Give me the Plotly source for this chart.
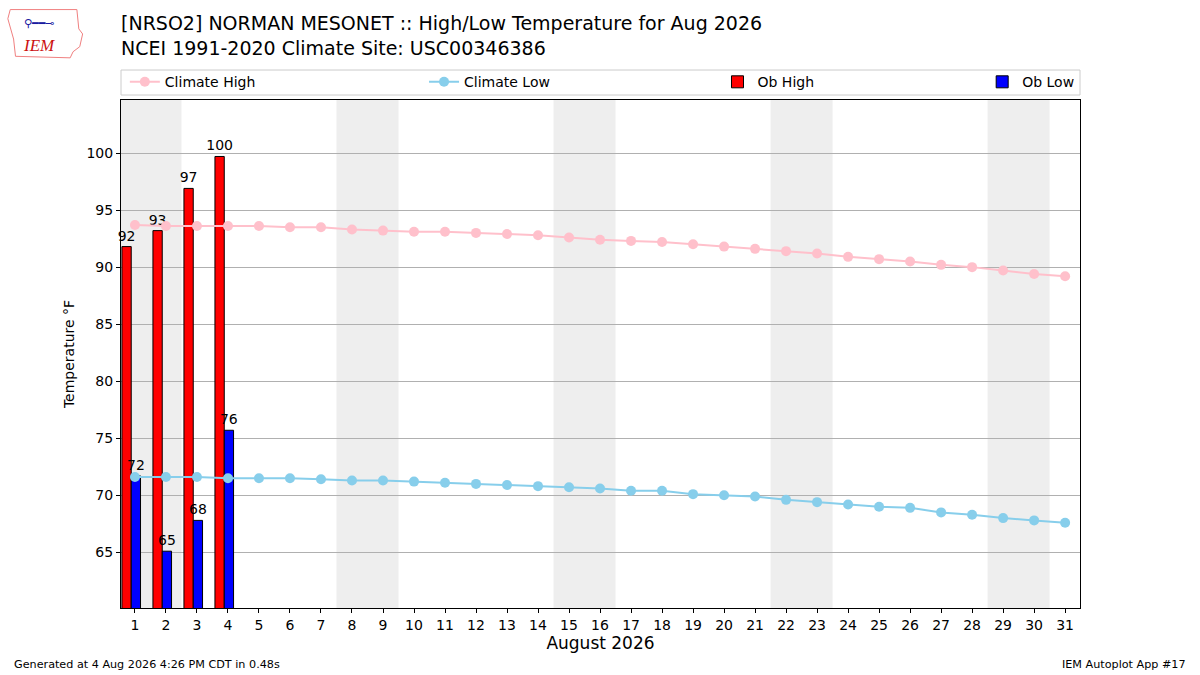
import plotly.graph_objects as go

# 日期与数据
days = list(range(1, 32))
climate_high = [93.7, 93.6, 93.6, 93.6, 93.6, 93.5, 93.5, 93.3, 93.2, 93.1,
                93.1, 93.0, 92.9, 92.8, 92.6, 92.4, 92.3, 92.2, 92.0, 91.8,
                91.6, 91.4, 91.2, 90.9, 90.7, 90.5, 90.2, 90.0, 89.7, 89.4, 89.2]
climate_low = [71.6, 71.6, 71.6, 71.5, 71.5, 71.5, 71.4, 71.3, 71.3, 71.2,
               71.1, 71.0, 70.9, 70.8, 70.7, 70.6, 70.4, 70.4, 70.1, 70.0,
               69.9, 69.6, 69.4, 69.2, 69.0, 68.9, 68.5, 68.3, 68.0, 67.8, 67.6]
ob_days = [1, 2, 3, 4]
ob_high = [91.8, 93.2, 96.9, 99.7]
ob_low = [71.7, 65.1, 67.8, 75.7]
weekends = [(0.55, 2.5), (7.5, 9.5), (14.5, 16.5), (21.5, 23.5), (28.5, 30.5)]

title_lines = ["[NRSO2] NORMAN MESONET :: High/Low Temperature for Aug 2026",
               "NCEI 1991-2020 Climate Site: USC00346386"]

FONT = "DejaVu Sans"

fig = go.Figure()

fig.add_trace(go.Scatter(
    x=days, y=climate_high, mode="lines+markers", name="Climate High", legend="legend",
    line=dict(color="#FFC0CB", width=2), marker=dict(size=10, color="#FFC0CB")))
fig.add_trace(go.Scatter(
    x=days, y=climate_low, mode="lines+markers", name="Climate Low", legend="legend2",
    line=dict(color="#87CEEB", width=2), marker=dict(size=10, color="#87CEEB")))
fig.add_trace(go.Bar(
    x=ob_days, y=ob_high, name="Ob High", width=0.3, offset=-0.42, legend="legend3",
    marker=dict(color="red", line=dict(color="black", width=1)),
    text=["%.0f" % v for v in ob_high], textposition="outside", constraintext="none",
    textfont=dict(size=14, color="black"), cliponaxis=False))
fig.add_trace(go.Bar(
    x=ob_days, y=ob_low, name="Ob Low", width=0.3, offset=-0.12, legend="legend4",
    marker=dict(color="blue", line=dict(color="black", width=1)),
    text=["%.0f" % v for v in ob_low], textposition="outside", constraintext="none",
    textfont=dict(size=14, color="black"), cliponaxis=False))

# 周末阴影
for x0, x1 in weekends:
    fig.add_shape(type="rect", xref="x", yref="paper", x0=x0, x1=x1, y0=0, y1=1,
                  fillcolor="#eeeeee", line_width=0, layer="below")

# 图例外框
fig.add_shape(type="rect", xref="paper", yref="paper", x0=0, x1=1, y0=1.0098, y1=1.059,
              line=dict(color="#cccccc", width=1), fillcolor="white")

# 标题
fig.add_annotation(text="<br>".join(title_lines), xref="paper", yref="paper",
                   x=-0.0025, y=1.127, xanchor="left", yanchor="middle", align="left",
                   showarrow=False, font=dict(size=19, family=FONT, color="black"))

# IEM 标志
fig.add_shape(type="path", xref="paper", yref="paper",
              path="M -0.1155 1.178 L -0.046 1.178 L -0.044 1.14 L -0.040 1.13 "
                   "L -0.043 1.105 L -0.050 1.095 L -0.053 1.083 L -0.110 1.086 "
                   "L -0.112 1.12 L -0.118 1.16 Z",
              line=dict(color="#f08080", width=1), fillcolor="white")
fig.add_annotation(text="<i>IEM</i>", xref="paper", yref="paper", x=-0.085, y=1.107,
                   xanchor="center", yanchor="middle", showarrow=False,
                   font=dict(size=17, family="Liberation Serif", color="#cc1111"))
fig.add_annotation(text="⚲━━⊸", xref="paper", yref="paper", x=-0.085, y=1.15,
                   xanchor="center", yanchor="middle", showarrow=False,
                   font=dict(size=11, family=FONT, color="#1a1aa0"))

# 页脚
fig.add_annotation(text="Generated at 4 Aug 2026 4:26 PM CDT in 0.48s", xref="paper",
                   yref="paper", x=-0.1137, y=-0.112, xanchor="left", yanchor="middle",
                   showarrow=False, font=dict(size=11.2, family=FONT, color="black"))
fig.add_annotation(text="IEM Autoplot App #17", xref="paper", yref="paper",
                   x=1.1126, y=-0.112, xanchor="right", yanchor="middle",
                   showarrow=False, font=dict(size=11.2, family=FONT, color="black"))

legend_style = dict(orientation="h", yanchor="middle", y=1.035, xanchor="left",
                    bgcolor="rgba(0,0,0,0)", borderwidth=0,
                    font=dict(size=14, family=FONT, color="black"))

fig.update_layout(
    width=1200, height=675,
    margin=dict(l=121, r=120, t=100, b=67, autoexpand=False),
    paper_bgcolor="white", plot_bgcolor="white",
    font=dict(family=FONT, size=14, color="black"),
    barmode="overlay",
    showlegend=True,
    legend=dict(x=0.004, **legend_style),
    legend2=dict(x=0.316, **legend_style),
    legend3=dict(x=0.622, **legend_style),
    legend4=dict(x=0.898, **legend_style),
    xaxis=dict(range=[0.55, 31.48], tickmode="array", tickvals=days,
               ticktext=[str(d) for d in days], showgrid=False,
               showline=True, linecolor="black", linewidth=1, mirror=True,
               ticks="outside", ticklen=4, tickcolor="black",
               title=dict(text="August 2026", font=dict(size=17), standoff=4),
               zeroline=False),
    yaxis=dict(range=[60.12, 104.65], tickvals=[65, 70, 75, 80, 85, 90, 95, 100],
               showgrid=True, gridcolor="#b0b0b0", gridwidth=1,
               showline=True, linecolor="black", linewidth=1, mirror=True,
               ticks="outside", ticklen=4, tickcolor="black",
               title=dict(text="Temperature °F", font=dict(size=14), standoff=8),
               zeroline=False),
)

# 去掉页面默认边距, 让图与窗口对齐
fig.write_html("out.html", config={"displayModeBar": False},
               post_script="document.body.style.margin='0';")
